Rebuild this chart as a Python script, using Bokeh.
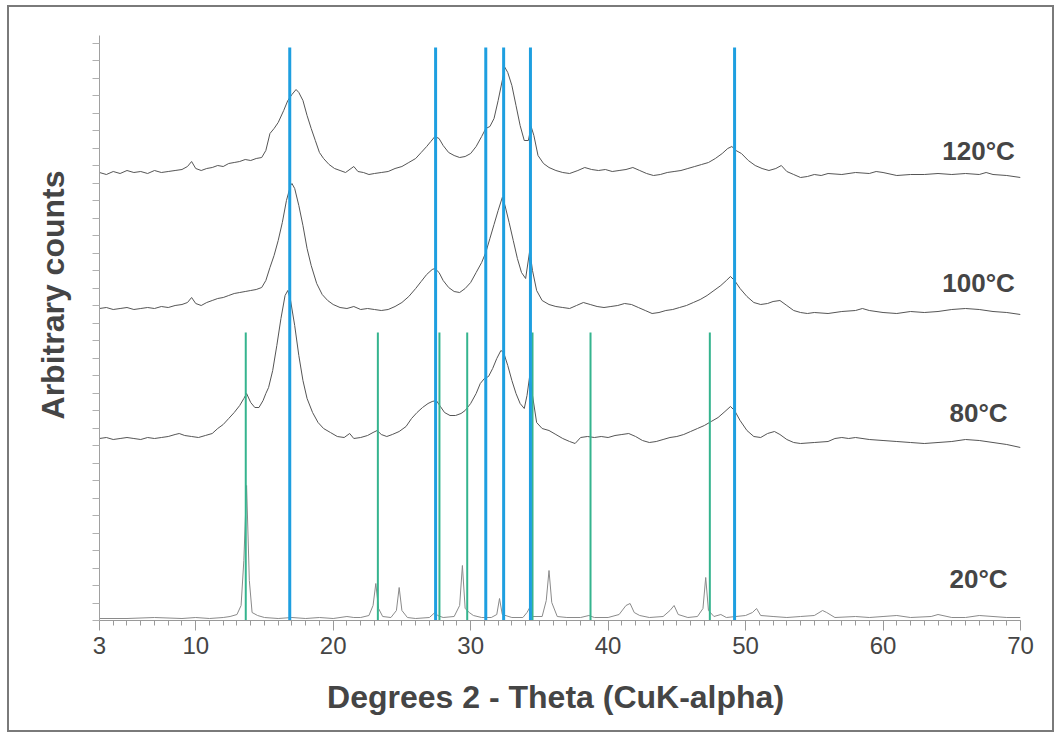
import math
from bokeh.plotting import figure
from bokeh.models import Range1d, FixedTicker, Title, InlineStyleSheet
from bokeh.core.properties import value
from bokeh.embed import file_html
from bokeh.resources import INLINE

# ---------------- data ----------------
x_ticks = [3, 10, 20, 30, 40, 50, 60, 70]
x_tick_labels = ["3", "10", "20", "30", "40", "50", "60", "70"]

# reference lines (degrees 2-theta)
blue_ref = [16.84, 27.45, 31.10, 32.40, 34.35, 49.20]
green_ref = [13.64, 23.25, 27.73, 29.75, 34.50, 38.72, 47.40]
blue_top = 573
green_top = 288

t120_x = [3.0, 3.5, 4.0, 4.5, 5.0, 5.5, 6.0, 6.5, 7.0, 7.5, 8.0, 8.5, 9.0, 9.4, 9.7, 10.0,
          10.4, 10.8, 11.2, 11.6, 12.0, 12.4, 12.8, 13.2, 13.6, 14.0, 14.4, 14.8, 15.1, 15.4,
          15.7, 16.0, 16.4, 16.7, 17.0, 17.3, 17.5, 17.8, 18.1, 18.4, 18.7, 19.0, 19.3, 19.7,
          20.1, 20.5, 20.9, 21.3, 21.5, 21.8, 22.2, 22.6, 23.0, 23.5, 24.0, 24.5, 25.0, 25.5,
          26.0, 26.4, 26.8, 27.1, 27.4, 27.7, 28.0, 28.4, 28.8, 29.2, 29.6, 30.0, 30.4, 30.8,
          31.1, 31.4, 31.7, 32.0, 32.3, 32.5, 32.7, 33.0, 33.3, 33.6, 33.9, 34.2, 34.4, 34.6,
          34.9, 35.3, 35.7, 36.2, 36.7, 37.2, 37.8, 38.3, 38.8, 39.3, 39.8, 40.3, 40.8, 41.3,
          41.8, 42.3, 42.8, 43.3, 43.8, 44.3, 44.8, 45.3, 45.8, 46.3, 46.8, 47.3, 47.8, 48.3,
          48.7, 49.0, 49.3, 49.7, 50.2, 50.7, 51.2, 51.7, 52.2, 52.6, 53.0, 53.5, 54.0, 54.5,
          55.0, 55.5, 56.0, 57.0, 58.0, 59.0, 59.5, 60.0, 61.0, 62.0, 63.0, 64.0, 65.0, 66.0,
          67.0, 67.5, 68.0, 69.0, 70.0]
t120_y = [448, 446, 449, 447, 450, 448, 449, 447, 450, 448, 449, 450, 451, 454, 459, 452,
          450, 452, 453, 455, 454, 457, 458, 459, 461, 460, 462, 463, 470, 487,
          492, 498, 510, 520, 526, 531, 528, 520, 505, 492, 480, 468, 462, 456,
          452, 450, 448, 452, 454, 449, 448, 446, 447, 448, 449, 452, 454, 458,
          462, 468, 474, 479, 484, 482, 475, 468, 465, 463, 464, 467, 474, 484,
          492, 494, 502, 520, 540, 553, 548, 535, 515, 495, 480, 480, 494, 485,
          465, 457, 453, 450, 448, 447, 450, 453, 451, 450, 451, 449, 450, 451,
          453, 450, 447, 445, 446, 448, 449, 450, 452, 454, 456, 458, 462, 467,
          472, 474, 470, 467, 460, 455, 452, 450, 452, 455, 449, 446, 443, 444,
          446, 445, 447, 446, 448, 447, 449, 448, 445, 446, 446, 447, 446, 447,
          446, 448, 446, 445, 443]

t100_x = [3.0, 3.5, 4.0, 4.5, 5.0, 5.5, 6.0, 6.5, 7.0, 7.5, 8.0, 8.5, 9.0, 9.4, 9.7, 10.0,
          10.4, 10.8, 11.2, 11.6, 12.0, 12.4, 12.8, 13.2, 13.6, 14.0, 14.4, 14.8, 15.1, 15.4,
          15.7, 16.0, 16.3, 16.6, 16.9, 17.0, 17.2, 17.5, 17.8, 18.1, 18.4, 18.8, 19.2, 19.6,
          20.0, 20.5, 21.0, 21.5, 22.0, 22.5, 23.0, 23.5, 24.0, 24.5, 25.0, 25.5, 26.0, 26.4,
          26.8, 27.2, 27.4, 27.7, 28.0, 28.4, 28.8, 29.2, 29.6, 30.0, 30.4, 30.8, 31.1, 31.4,
          31.7, 32.0, 32.3, 32.5, 32.8, 33.1, 33.4, 33.7, 34.0, 34.3, 34.5, 34.8, 35.2, 35.7,
          36.2, 36.7, 37.2, 37.7, 38.2, 38.7, 39.2, 39.7, 40.2, 40.7, 41.2, 41.7, 42.2, 42.7,
          43.2, 43.7, 44.2, 44.7, 45.2, 45.7, 46.2, 46.7, 47.2, 47.7, 48.2, 48.6, 48.9, 49.2,
          49.6, 50.1, 50.6, 51.1, 51.6, 52.0, 52.5, 53.0, 53.5, 54.0, 54.5, 55.0, 56.0, 57.0,
          58.0, 58.5, 59.0, 60.0, 61.0, 62.0, 63.0, 64.0, 65.0, 66.0, 67.0, 68.0, 69.0, 70.0]
t100_y = [312, 313, 311, 312, 313, 311, 312, 313, 312, 314, 313, 315, 316, 318, 323, 317,
          315, 318, 320, 322, 323, 325, 327, 328, 329, 330, 331, 333, 340, 353,
          365, 380, 398, 420, 435, 437, 432, 415, 395, 372, 355, 337, 326, 320,
          316, 313, 312, 314, 311, 312, 311, 310, 311, 314, 318, 324, 332, 339,
          346, 351, 352, 348, 340, 333, 329, 328, 332, 338, 348, 358, 368, 382,
          396, 410, 423, 415, 398, 380, 362, 348, 342, 370, 350, 330, 320, 316,
          314, 313, 312, 315, 318, 316, 314, 313, 314, 315, 317, 316, 313, 310,
          307, 308, 310, 311, 313, 315, 318, 321, 325, 330, 335, 340, 344, 340,
          332, 324, 318, 316, 317, 319, 320, 315, 310, 308, 307, 308, 307, 309,
          310, 312, 310, 308, 307, 309, 308, 309, 311, 312, 311, 309, 308, 306]

t80_x = [3.0, 3.5, 4.0, 4.5, 5.0, 5.5, 6.0, 6.5, 7.0, 7.5, 8.0, 8.5, 8.8, 9.2, 9.7, 10.2,
         10.7, 11.2, 11.6, 12.0, 12.4, 12.8, 13.2, 13.5, 13.7, 14.0, 14.3, 14.6, 14.9, 15.1,
         15.3, 15.6, 15.9, 16.2, 16.5, 16.7, 16.9, 17.2, 17.5, 17.8, 18.1, 18.5, 18.9, 19.3,
         19.8, 20.3, 20.8, 21.2, 21.5, 22.0, 22.5, 22.9, 23.2, 23.5, 23.9, 24.3, 24.8, 25.3,
         25.7, 26.1, 26.5, 26.9, 27.2, 27.5, 27.8, 28.1, 28.5, 28.9, 29.3, 29.6, 30.0, 30.4,
         30.7, 31.0, 31.3, 31.6, 31.9, 32.2, 32.4, 32.7, 33.0, 33.3, 33.6, 33.9, 34.1, 34.3,
         34.5, 34.8, 35.2, 35.7, 36.2, 36.7, 37.2, 37.6, 38.0, 38.5, 39.0, 39.5, 40.0, 40.5,
         41.0, 41.5, 42.0, 42.5, 43.0, 43.5, 44.0, 44.5, 45.0, 45.5, 46.0, 46.5, 47.0, 47.5,
         48.0, 48.5, 48.9, 49.2, 49.6, 50.1, 50.6, 51.1, 51.6, 52.1, 52.5, 53.0, 53.5, 54.0,
         55.0, 56.0, 56.5, 57.0, 57.5, 58.0, 59.0, 60.0, 61.0, 62.0, 63.0, 64.0, 65.0, 66.0,
         67.0, 68.0, 69.0, 70.0]
t80_y = [182, 183, 181, 182, 183, 182, 181, 183, 182, 183, 184, 186, 187, 185, 184, 183,
         185, 187, 192, 196, 202, 208, 215, 222, 227, 218, 213, 213, 220, 227,
         233, 250, 275, 302, 325, 330, 320, 295, 265, 240, 222, 208, 198, 192,
         188, 184, 183, 187, 182, 183, 185, 188, 190, 186, 184, 186, 189, 194,
         202, 208, 213, 217, 219, 220, 214, 208, 205, 205, 207, 210, 217, 227,
         237, 242, 244, 252, 262, 270, 268, 255, 240, 227, 217, 212, 225, 245,
         225, 198, 192, 190, 186, 182, 179, 177, 183, 184, 183, 184, 183, 185,
         186, 187, 184, 180, 178, 179, 181, 183, 184, 186, 189, 192, 195, 199,
         203, 209, 214, 210, 200, 190, 184, 183, 187, 189, 186, 181, 178, 177,
         178, 179, 182, 183, 182, 183, 181, 180, 179, 178, 177, 178, 179, 181,
         180, 178, 176, 173]

t20_x = [3.0, 5.0, 7.0, 9.0, 10.0, 11.0, 12.0, 12.5, 13.0, 13.3, 13.5, 13.7, 13.9, 14.1,
         14.5, 15.0, 16.0, 17.0, 18.0, 19.0, 20.0, 21.0, 21.5, 22.0, 22.6, 22.9, 23.1, 23.3,
         23.6, 24.2, 24.6, 24.8, 25.0, 25.4, 26.0, 27.0, 27.4, 27.6, 28.0, 28.8, 29.2, 29.4,
         29.6, 29.9, 30.2, 30.8, 31.5, 31.9, 32.1, 32.3, 33.0, 33.8, 34.1, 34.3, 34.5, 35.2,
         35.5, 35.7, 35.9, 36.3, 37.0, 38.0, 38.6, 39.0, 40.0, 40.8, 41.3, 41.6, 41.9, 42.3,
         43.0, 44.0, 44.5, 44.8, 45.1, 45.8, 46.5, 46.9, 47.1, 47.3, 47.7, 48.2, 48.6, 49.3,
         50.0, 50.5, 50.8, 51.1, 52.0, 53.0, 54.0, 55.0, 55.6, 55.9, 56.5, 58.0, 59.0, 60.0,
         61.0, 62.0, 63.5, 64.0, 65.0, 66.0, 67.0, 68.0, 69.0, 70.0]
t20_y = [2, 2, 3, 2, 3, 2, 3, 4, 6, 15, 60, 135, 40, 8,
         5, 3, 2, 3, 2, 3, 2, 4, 3, 3, 5, 15, 37, 12,
         4, 3, 10, 33, 10, 3, 2, 3, 8, 5, 3, 4, 15, 55,
         12, 8, 5, 3, 3, 6, 22, 6, 3, 3, 8, 13, 4, 4,
         20, 50, 18, 4, 3, 3, 5, 3, 3, 6, 15, 17, 8, 5,
         3, 4, 10, 15, 6, 3, 4, 12, 43, 10, 4, 6, 3, 4,
         5, 8, 12, 5, 4, 3, 4, 5, 10, 8, 3, 4, 3, 4,
         5, 3, 4, 6, 3, 3, 5, 4, 3, 3]

series_labels = ["120°C", "100°C", "80°C", "20°C"]
label_y = [470, 338, 208, 42]
label_x = 66.95

# ---------------- figure ----------------
FONT = "Liberation Sans"
TXT = "#454545"

# the page shows a thin grey frame round the picture: the canvas sits inside it
p = figure(width=1047, height=727, output_backend="svg", toolbar_location=None,
           x_range=Range1d(3, 70), y_range=Range1d(0, 585),
           min_border_left=90, min_border_right=36, min_border_top=28, min_border_bottom=114)
p.outline_line_color = None
p.xgrid.visible = False
p.ygrid.visible = False
p.background_fill_color = "white"
p.border_fill_color = "white"
p.stylesheets = [InlineStyleSheet(css=":host { border: 2px solid #7a7a7a; "
                                      "margin: 5px 0 0 7px; }")]

# x axis
p.xaxis.ticker = FixedTicker(ticks=x_ticks, minor_ticks=list(range(3, 71)))
p.xaxis.major_label_overrides = {t: l for t, l in zip(x_ticks, x_tick_labels)}
p.xaxis.axis_line_color = "#9a9a9a"
p.xaxis.major_tick_line_color = "#9a9a9a"
p.xaxis.minor_tick_line_color = "#9a9a9a"
p.xaxis.major_tick_out = 10
p.xaxis.major_tick_in = 0
p.xaxis.minor_tick_out = 5
p.xaxis.minor_tick_in = 0
p.xaxis.major_label_text_font = FONT
p.xaxis.major_label_text_font_size = "24px"
p.xaxis.major_label_text_color = TXT
p.xaxis.major_label_standoff = 6
p.xaxis.axis_label = "Degrees 2 - Theta  (CuK-alpha)"
p.xaxis.axis_label_text_font = FONT
p.xaxis.axis_label_text_font_size = "32px"
p.xaxis.axis_label_text_font_style = "bold"
p.xaxis.axis_label_text_color = TXT
p.xaxis.axis_label_standoff = 22

# y axis: tick marks only, no tick labels
y_minor = [i * 17.5 for i in range(34)]
p.yaxis.ticker = FixedTicker(ticks=[], minor_ticks=y_minor)
p.yaxis.axis_line_color = "#a0a0a0"
p.yaxis.minor_tick_line_color = "#b0b0b0"
p.yaxis.minor_tick_out = 7
p.yaxis.minor_tick_in = 0

# y axis title, placed in the left panel
p.add_layout(Title(text="Arbitrary counts", align="right", offset=135, standoff=44,
                   text_font=FONT, text_font_size="32px", text_font_style="bold",
                   text_color=TXT), "left")

# patterns
p.line(t120_x, t120_y, line_color="#555555", line_width=1)
p.line(t100_x, t100_y, line_color="#555555", line_width=1)
p.line(t80_x, t80_y, line_color="#555555", line_width=1)
p.line(t20_x, t20_y, line_color="#8a8a8a", line_width=1)

# reference lines
p.segment(x0=green_ref, y0=[0] * len(green_ref), x1=green_ref, y1=[green_top] * len(green_ref),
          line_color="#35b48e", line_width=2)
p.segment(x0=blue_ref, y0=[0] * len(blue_ref), x1=blue_ref, y1=[blue_top] * len(blue_ref),
          line_color="#1e9fe0", line_width=3)

# temperature labels
p.text(x=[label_x] * len(series_labels), y=label_y, text=series_labels,
       text_font=value(FONT), text_font_size="26px", text_font_style="bold",
       text_color=TXT, text_align="center", text_baseline="middle")

open("out.html", "w").write(file_html(p, INLINE))
